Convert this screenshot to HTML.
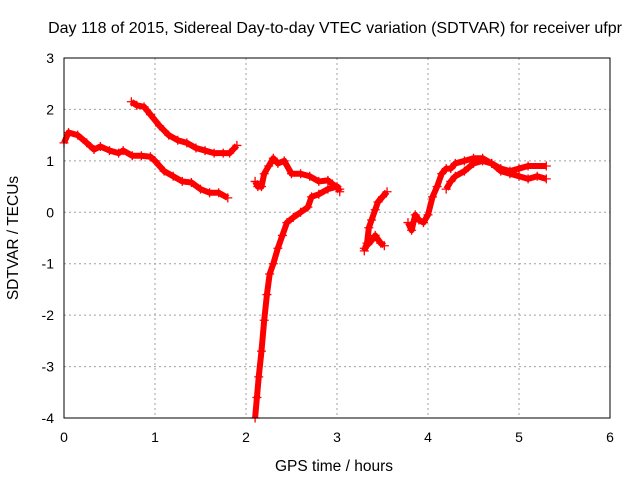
<!DOCTYPE html>
<html><head><meta charset="utf-8"><style>
body{margin:0;background:#fff}
svg{display:block;font-family:"Liberation Sans",sans-serif}
</style></head><body>
<svg id="chart" width="640" height="480" viewBox="0 0 640 480">
<text x="335" y="33" font-size="16" text-anchor="middle">Day 118 of 2015, Sidereal Day-to-day VTEC variation (SDTVAR) for receiver ufpr</text>
<text x="334" y="471" font-size="15.5" text-anchor="middle">GPS time / hours</text>
<text transform="translate(18,238) rotate(-90)" font-size="15.5" text-anchor="middle">SDTVAR / TECUs</text>
<g id="grid"></g><g id="ticks"></g><g id="marks"></g>
<rect x="64" y="58" width="546" height="360" fill="none" stroke="#000" stroke-width="1"/>
</svg>
<script>
const xTicks=[0,1,2,3,4,5,6];
const yTicks=[3,2,1,0,-1,-2,-3,-4];
const segA=[[0,1.35],[0.05,1.55],[0.15,1.5],[0.25,1.35],[0.33,1.22],[0.4,1.28],[0.5,1.2],[0.6,1.15],[0.65,1.2],[0.75,1.1],[0.85,1.1],[0.95,1.08],[1.0,1.0],[1.1,0.8],[1.2,0.7],[1.3,0.6],[1.4,0.58],[1.5,0.45],[1.6,0.38],[1.7,0.38],[1.8,0.28]];
const segB=[[0.74,2.15],[0.8,2.08],[0.88,2.05],[0.95,1.9],[1.05,1.68],[1.15,1.5],[1.25,1.4],[1.35,1.35],[1.45,1.25],[1.55,1.2],[1.65,1.15],[1.75,1.15],[1.82,1.15],[1.9,1.3]];
const segC=[[2.1,0.6],[2.13,0.5],[2.17,0.5],[2.2,0.75],[2.25,0.9],[2.3,1.05],[2.35,0.95],[2.42,1.0],[2.5,0.75],[2.6,0.75],[2.7,0.7],[2.8,0.6],[2.9,0.62],[2.95,0.55],[3.03,0.45]];
const segD=[[2.1,-4.0],[2.12,-3.6],[2.14,-3.2],[2.17,-2.7],[2.2,-2.1],[2.23,-1.6],[2.26,-1.2],[2.3,-1.0],[2.35,-0.7],[2.4,-0.45],[2.45,-0.2],[2.52,-0.1],[2.6,0.0],[2.68,0.1],[2.72,0.3],[2.8,0.35],[2.9,0.45],[3.0,0.5],[3.03,0.4]];
const segE=[[3.3,-0.75],[3.33,-0.6],[3.35,-0.3],[3.38,-0.15],[3.42,0.05],[3.45,0.2],[3.5,0.3],[3.55,0.4]];
const segE2=[[3.3,-0.7],[3.38,-0.55],[3.42,-0.45],[3.48,-0.6],[3.52,-0.65]];
const segF=[[3.78,-0.2],[3.82,-0.35],[3.86,-0.05],[3.9,-0.15],[3.95,-0.2],[4.0,-0.05],[4.05,0.3],[4.1,0.5],[4.15,0.75],[4.2,0.85],[4.25,0.85],[4.3,0.95],[4.4,1.0],[4.5,1.05],[4.6,1.05],[4.7,0.95],[4.8,0.85],[4.9,0.8],[5.0,0.85],[5.1,0.9],[5.3,0.9]];
const segG=[[4.2,0.45],[4.25,0.6],[4.3,0.7],[4.4,0.8],[4.5,0.95],[4.6,1.0],[4.7,0.95],[4.8,0.8],[4.9,0.75],[5.0,0.7],[5.1,0.65],[5.2,0.7],[5.3,0.65]];
const segments=[segA,segB,segC,segD,segE,segE2,segF,segG];
const NS="http://www.w3.org/2000/svg";
const X=h=>64+h*91;
const Y=v=>58+(3-v)*(360/7);
function mk(t,a,p){const e=document.createElementNS(NS,t);for(const k in a)e.setAttribute(k,a[k]);p.appendChild(e);return e;}
const grid=document.getElementById('grid'),ticks=document.getElementById('ticks'),marks=document.getElementById('marks');
xTicks.forEach(t=>{
  if(t>0&&t<6){const g=mk('line',{x1:X(t),x2:X(t),y1:58,y2:418,stroke:'#a0a0a0','stroke-dasharray':'2,3'},grid);
  
  }
  const l=mk('text',{x:X(t),y:442,'font-size':14,'text-anchor':'middle'},ticks);
  l.textContent=t;
  
  
});
yTicks.forEach(t=>{
  if(t<3&&t>-4){const g=mk('line',{x1:64,x2:610,y1:Y(t),y2:Y(t),stroke:'#a0a0a0','stroke-dasharray':'2,3'},grid);
  
  }
  const l=mk('text',{x:54,y:Y(t)+5,'font-size':14,'text-anchor':'end'},ticks);
  l.textContent=t;
  
  
});
segments.forEach(s=>{
  const pl=mk('polyline',{points:s.map(p=>X(p[0])+','+Y(p[1])).join(' '),fill:'none',stroke:'#f00','stroke-width':6,'stroke-linejoin':'round'},marks);
  
  
  s.forEach(p=>{
    const x=X(p[0]),y=Y(p[1]);
    const m=mk('path',{d:`M${x-4.5},${y}h9M${x},${y-4.5}v9`,stroke:'#f00','stroke-width':1.3},marks);
    
    
  });
});
</script>
</body></html>
